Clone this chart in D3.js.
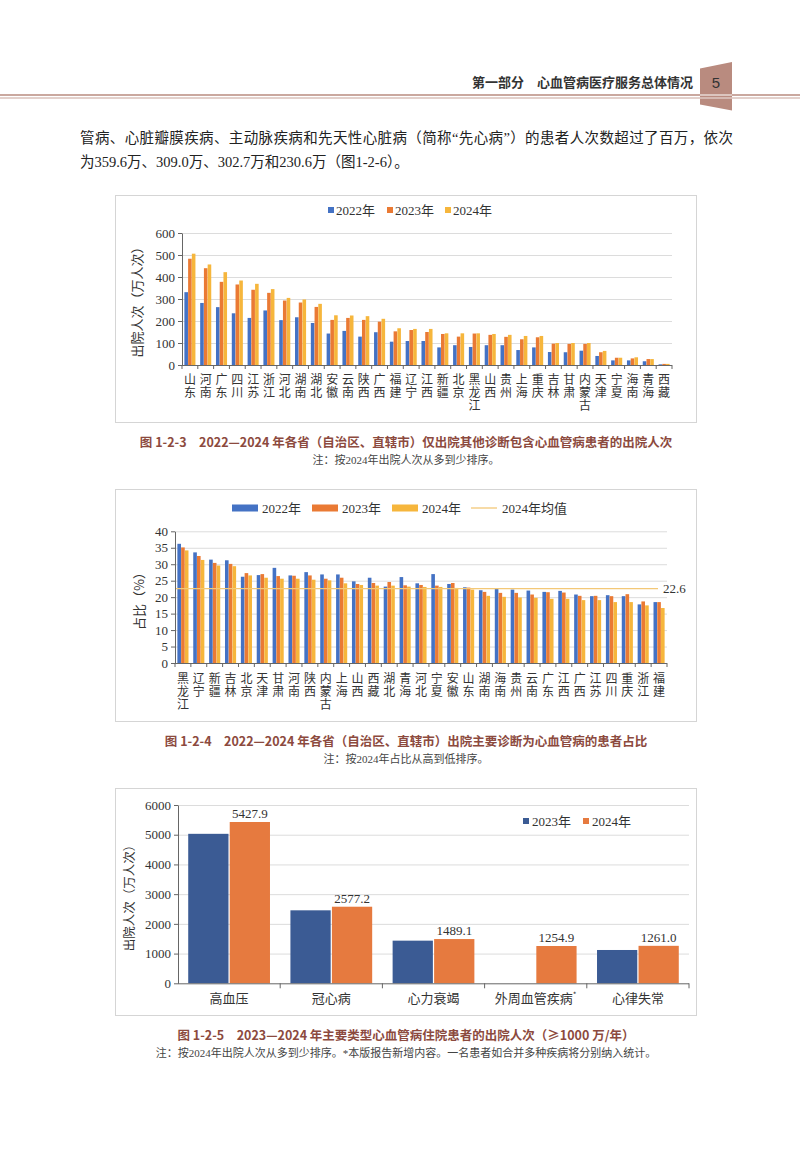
<!DOCTYPE html>
<html>
<head>
<meta charset="utf-8">
<script src="https://cdn.jsdelivr.net/npm/d3@7"></script>
<style>
  body { margin: 0; background: #fff; }
  svg { display: block; }
</style>
</head>
<body>
<script>
// 图1-2-3 仅出院其他诊断包含心血管病患者的出院人次（万人次）
const provinces1 = ["山东","河南","广东","四川","江苏","浙江","河北","湖南","湖北","安徽","云南","陕西","广西","福建","辽宁","江西","新疆","北京","黑龙江","山西","贵州","上海","重庆","吉林","甘肃","内蒙古","天津","宁夏","海南","青海","西藏"];
const visits2022 = [331,282,263,235,214,248,204,217,191,143,155,129,149,106,109,109,80,90,82,90,90,68,80,59,58,65,41,21,21,17,3];
const visits2023 = [483,440,378,366,342,328,293,284,264,205,214,205,197,153,159,150,141,129,143,137,128,117,126,97,96,96,58,33,30,27,5];
const visits2024 = [506,457,422,384,369,345,305,298,278,226,225,222,210,167,164,164,144,144,144,141,137,132,132,100,100,100,64,33,35,27,5];
const ticks1 = [0,100,200,300,400,500,600];

// 图1-2-4 出院主要诊断为心血管病的患者占比（%）
const provinces2 = ["黑龙江","辽宁","新疆","吉林","北京","天津","甘肃","河南","陕西","内蒙古","上海","山西","西藏","湖北","青海","河北","宁夏","安徽","山东","湖南","海南","贵州","云南","广东","江西","广西","江苏","四川","重庆","浙江","福建"];
const share2022 = [36.2,33.6,31.4,31.2,26.2,26.7,28.9,26.6,27.6,26.9,26.9,24.8,25.9,23.2,26.1,24.2,27.0,24.0,23.0,22.1,22.5,22.3,22.0,21.6,21.9,20.8,20.3,20.6,20.3,17.8,18.5];
const share2023 = [35.1,32.5,30.4,30.1,27.3,27.0,26.4,26.5,26.6,25.6,25.9,24.0,24.3,24.6,23.6,23.7,23.5,24.3,22.9,21.6,21.3,21.3,20.8,21.5,21.4,20.4,20.4,20.3,20.9,18.7,18.5];
const share2024 = [34.2,31.3,29.6,29.4,26.6,25.9,25.6,25.6,25.3,25.1,24.2,23.7,23.5,23.5,23.2,23.1,23.1,22.8,22.3,20.4,20.1,19.9,19.8,19.5,19.5,19.1,19.1,18.5,18.5,17.5,16.7];
const shareMean2024 = 22.6;
const ticks2 = [0,5,10,15,20,25,30,35,40];

// 图1-2-5 主要类型心血管病住院患者的出院人次（万人次）
const diseases = ["高血压","冠心病","心力衰竭","外周血管疾病*","心律失常"];
const disease2023 = [5030,2456,1435,null,1121];
const disease2024 = [5427.9,2577.2,1489.1,1254.9,1261.0];
const ticks3 = [0,1000,2000,3000,4000,5000,6000];

const serif = '"Liberation Serif", "Noto Sans CJK SC", serif';
const sans = '"Noto Sans CJK SC", sans-serif';

const svg = d3.select("body").append("svg")
  .attr("width", 800)
  .attr("height", 1150);

svg.append("rect").attr("width", 800).attr("height", 1150).attr("fill", "#fff");

// 页眉
const brown = "#b98b7f";
svg.append("line").attr("x1", 0).attr("x2", 800).attr("y1", 95).attr("y2", 95)
  .attr("stroke", brown).attr("stroke-width", 1.4);
svg.append("line").attr("x1", 0).attr("x2", 800).attr("y1", 98).attr("y2", 98)
  .attr("stroke", brown).attr("stroke-width", 0.8);
svg.append("polygon")
  .attr("points", "700,68.5 732,62 732,110.5 700,104.5")
  .attr("fill", brown);
svg.append("line").attr("x1", 700).attr("x2", 732).attr("y1", 95).attr("y2", 95)
  .attr("stroke", "#fff").attr("stroke-width", 1);
svg.append("line").attr("x1", 700).attr("x2", 732).attr("y1", 98).attr("y2", 98)
  .attr("stroke", "#fff").attr("stroke-width", 0.8);
svg.append("text").attr("x", 693).attr("y", 87).attr("text-anchor", "end")
  .attr("font-family", sans).attr("font-size", 13).attr("font-weight", 600).attr("fill", "#333")
  .text("第一部分　心血管病医疗服务总体情况");
svg.append("text").attr("x", 716).attr("y", 88).attr("text-anchor", "middle")
  .attr("font-family", '"Liberation Sans", sans-serif').attr("font-size", 15).attr("fill", "#333")
  .text("5");

// 正文
svg.append("text").attr("x", 80).attr("y", 143)
  .attr("font-family", serif).attr("font-size", 14.5).attr("fill", "#222")
  .attr("textLength", 653).attr("lengthAdjust", "spacing")
  .text("管病、心脏瓣膜疾病、主动脉疾病和先天性心脏病（简称“先心病”）的患者人次数超过了百万，依次");
svg.append("text").attr("x", 80).attr("y", 167)
  .attr("font-family", serif).attr("font-size", 14.5).attr("fill", "#222")
  .text("为359.6万、309.0万、302.7万和230.6万（图1-2-6）。");

function frame(top, bottom) {
  svg.append("rect").attr("x", 115.5).attr("y", top + 0.5)
    .attr("width", 581).attr("height", bottom - top)
    .attr("fill", "#fff").attr("stroke", "#d5d5d5");
}

function caption(boxBottom, title, note) {
  svg.append("text").attr("x", 406).attr("y", boxBottom + 24.5).attr("text-anchor", "middle")
    .attr("font-family", sans).attr("font-size", 12.5).attr("font-weight", "bold").attr("fill", "#8c4a3e")
    .text(title);
  svg.append("text").attr("x", 406).attr("y", boxBottom + 42).attr("text-anchor", "middle")
    .attr("font-family", serif).attr("font-size", 11).attr("fill", "#444")
    .text(note);
}

function styleAxis(a) {
  a.attr("font-family", serif).attr("font-size", 13);
  a.select(".domain").attr("stroke", "#666");
  a.selectAll(".tick line").attr("stroke", "#666");
  a.selectAll(".tick text").attr("fill", "#333");
}

// 各省分组柱状图（图1-2-3、图1-2-4共用）
function provinceChart(o) {
  const g = svg.append("g");
  const x0 = d3.scaleBand().domain(o.cats).range([o.left, o.right]);
  const bw = x0.bandwidth();
  const x1 = d3.scaleBand().domain(o.series.map(s => s.name))
    .range([bw * 0.15, bw * 0.85]).paddingInner(0.04);
  const y = d3.scaleLinear().domain([0, d3.max(o.ticks)]).range([o.bottom, o.top]);

  // 网格线
  g.append("g").attr("transform", `translate(${o.left},0)`)
    .call(d3.axisLeft(y).tickValues(o.ticks.slice(1)).tickSize(-(o.right - o.left)).tickFormat(""))
    .call(a => a.select(".domain").remove())
    .call(a => a.selectAll("line").attr("stroke", "#dcdcdc"));

  o.series.forEach(s => {
    g.selectAll(null).data(o.cats).join("rect")
      .attr("x", c => x0(c) + x1(s.name))
      .attr("y", (c, i) => y(s.values[i]))
      .attr("width", x1.bandwidth())
      .attr("height", (c, i) => y(0) - y(s.values[i]))
      .attr("fill", s.color);
  });

  if (o.mean != null) {
    g.append("line")
      .attr("x1", o.left).attr("x2", o.right - 9)
      .attr("y1", y(o.mean)).attr("y2", y(o.mean))
      .attr("stroke", "#f3c877").attr("stroke-width", 1.3);
    g.append("text").attr("x", o.right - 4).attr("y", y(o.mean) + 4.5)
      .attr("font-family", serif).attr("font-size", 13).attr("fill", "#333")
      .text(o.mean.toFixed(1));
  }

  g.append("g").attr("transform", `translate(${o.left},0)`)
    .call(d3.axisLeft(y).tickValues(o.ticks).tickSize(4).tickSizeOuter(0).tickPadding(3))
    .call(styleAxis);

  // x轴与分隔刻度
  g.append("line").attr("x1", o.left).attr("x2", o.right)
    .attr("y1", y(0) + 0.5).attr("y2", y(0) + 0.5).attr("stroke", "#666");
  g.selectAll(null).data(o.cats.concat([null])).join("line")
    .attr("x1", c => c ? x0(c) : o.right).attr("x2", c => c ? x0(c) : o.right)
    .attr("y1", y(0)).attr("y2", y(0) + 4).attr("stroke", "#666");

  // 竖排省份名称
  g.selectAll(null).data(o.cats).join("text")
    .attr("x", c => x0(c) + bw / 2)
    .attr("y", o.labelTop)
    .style("writing-mode", "vertical-rl")
    .style("letter-spacing", "1px")
    .attr("font-family", sans).attr("font-size", 12).attr("fill", "#333")
    .text(c => c);

  g.append("text")
    .attr("transform", `translate(${o.yLabelX},${o.yLabelY}) rotate(-90)`)
    .attr("text-anchor", "middle")
    .attr("font-family", sans).attr("font-size", 13).attr("fill", "#333")
    .text(o.yLabel);
}

const blue = "#4472c4", orange = "#ea7a34", gold = "#f6b63c";

// 图1-2-3
frame(195, 422);
provinceChart({
  cats: provinces1, left: 182, right: 672, top: 233, bottom: 365, ticks: ticks1,
  series: [
    { name: "2022年", values: visits2022, color: blue },
    { name: "2023年", values: visits2023, color: orange },
    { name: "2024年", values: visits2024, color: gold }
  ],
  labelTop: 373, yLabel: "出院人次（万人次）", yLabelX: 142, yLabelY: 299
});
[["2022年", blue, 328], ["2023年", orange, 387], ["2024年", gold, 445]].forEach(([t, c, x]) => {
  svg.append("rect").attr("x", x).attr("y", 207).attr("width", 6).attr("height", 6).attr("fill", c);
  svg.append("text").attr("x", x + 8).attr("y", 214.5)
    .attr("font-family", serif).attr("font-size", 13).attr("fill", "#333").text(t);
});
caption(422, "图 1-2-3　2022—2024 年各省（自治区、直辖市）仅出院其他诊断包含心血管病患者的出院人次",
  "注：按2024年出院人次从多到少排序。");

// 图1-2-4
frame(489, 721);
provinceChart({
  cats: provinces2, left: 175, right: 667, top: 531.3, bottom: 663, ticks: ticks2,
  series: [
    { name: "2022年", values: share2022, color: blue },
    { name: "2023年", values: share2023, color: orange },
    { name: "2024年", values: share2024, color: gold }
  ],
  mean: shareMean2024,
  labelTop: 672, yLabel: "占比（%）", yLabelX: 144, yLabelY: 598
});
[["2022年", blue, 232], ["2023年", orange, 312], ["2024年", gold, 392]].forEach(([t, c, x]) => {
  svg.append("rect").attr("x", x).attr("y", 504.5).attr("width", 26).attr("height", 7).attr("fill", c);
  svg.append("text").attr("x", x + 30).attr("y", 512.5)
    .attr("font-family", serif).attr("font-size", 13).attr("fill", "#333").text(t);
});
svg.append("line").attr("x1", 471).attr("x2", 497).attr("y1", 508).attr("y2", 508)
  .attr("stroke", "#f3c877").attr("stroke-width", 1.3);
svg.append("text").attr("x", 502).attr("y", 512.5)
  .attr("font-family", serif).attr("font-size", 13).attr("fill", "#333").text("2024年均值");
caption(721, "图 1-2-4　2022—2024 年各省（自治区、直辖市）出院主要诊断为心血管病的患者占比",
  "注：按2024年占比从高到低排序。");

// 图1-2-5
frame(788, 1015);
(function () {
  const g = svg.append("g");
  const left = 178, right = 689, top = 805, bottom = 983.3;
  const navy = "#3b5b94", orange3 = "#e67a3f";
  const series = [
    { name: "2023年", values: disease2023, color: navy },
    { name: "2024年", values: disease2024, color: orange3 }
  ];
  const x0 = d3.scaleBand().domain(diseases).range([left, right]);
  const bw = x0.bandwidth();
  const x1 = d3.scaleBand().domain(series.map(s => s.name))
    .range([bw * 0.1, bw * 0.9]).paddingInner(0.03);
  const y = d3.scaleLinear().domain([0, d3.max(ticks3)]).range([bottom, top]);

  g.append("g").attr("transform", `translate(${left},0)`)
    .call(d3.axisLeft(y).tickValues(ticks3.slice(1)).tickSize(-(right - left)).tickFormat(""))
    .call(a => a.select(".domain").remove())
    .call(a => a.selectAll("line").attr("stroke", "#dcdcdc"));

  series.forEach(s => {
    g.selectAll(null).data(diseases.filter((c, i) => s.values[i] != null)).join("rect")
      .attr("x", c => x0(c) + x1(s.name))
      .attr("y", c => y(s.values[diseases.indexOf(c)]))
      .attr("width", x1.bandwidth())
      .attr("height", c => y(0) - y(s.values[diseases.indexOf(c)]))
      .attr("fill", s.color);
  });

  g.selectAll(null).data(diseases).join("text")
    .attr("x", c => x0(c) + x1("2024年") + x1.bandwidth() / 2)
    .attr("y", (c, i) => y(disease2024[i]) - 4)
    .attr("text-anchor", "middle")
    .attr("font-family", serif).attr("font-size", 13).attr("fill", "#333")
    .text((c, i) => d3.format(".1f")(disease2024[i]));

  g.append("g").attr("transform", `translate(${left},0)`)
    .call(d3.axisLeft(y).tickValues(ticks3).tickFormat(d3.format("d")).tickSize(4).tickSizeOuter(0).tickPadding(3))
    .call(styleAxis);

  g.append("line").attr("x1", left).attr("x2", right)
    .attr("y1", y(0) + 0.5).attr("y2", y(0) + 0.5).attr("stroke", "#666");
  g.selectAll(null).data(diseases.slice(1).concat([null])).join("line")
    .attr("x1", c => c ? x0(c) : right).attr("x2", c => c ? x0(c) : right)
    .attr("y1", y(0)).attr("y2", y(0) + 5).attr("stroke", "#666");

  const lab = g.selectAll(null).data(diseases).join("text")
    .attr("x", c => x0(c) + bw / 2).attr("y", 1003)
    .attr("text-anchor", "middle")
    .attr("font-family", sans).attr("font-size", 13).attr("fill", "#333");
  lab.append("tspan").text(c => c.replace("*", ""));
  lab.filter(c => c.endsWith("*")).append("tspan")
    .attr("font-size", 8).attr("dy", -5).text("*");

  g.append("text")
    .attr("transform", `translate(134,895) rotate(-90)`)
    .attr("text-anchor", "middle")
    .attr("font-family", sans).attr("font-size", 12.5).attr("fill", "#333")
    .text("出院人次（万人次）");

  [["2023年", navy, 523], ["2024年", orange3, 583]].forEach(([t, c, x]) => {
    svg.append("rect").attr("x", x).attr("y", 818).attr("width", 6).attr("height", 6).attr("fill", c);
    svg.append("text").attr("x", x + 9).attr("y", 825.5)
      .attr("font-family", serif).attr("font-size", 13).attr("fill", "#333").text(t);
  });
})();
caption(1015, "图 1-2-5　2023—2024 年主要类型心血管病住院患者的出院人次（≥1000 万/年）",
  "注：按2024年出院人次从多到少排序。*本版报告新增内容。一名患者如合并多种疾病将分别纳入统计。");
</script>
</body>
</html>
